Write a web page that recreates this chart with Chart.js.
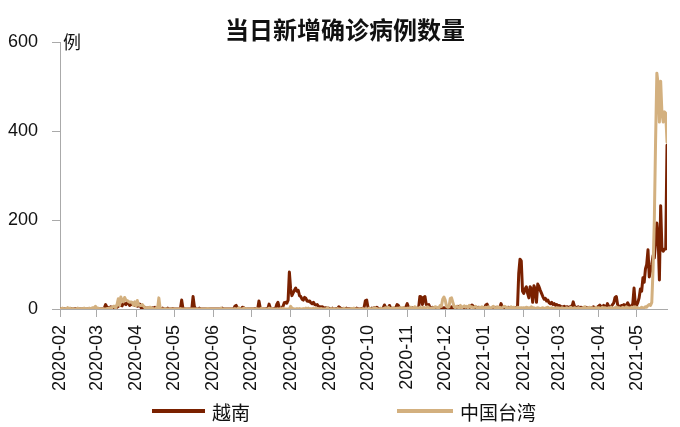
<!DOCTYPE html>
<html>
<head>
<meta charset="utf-8">
<script src="https://cdn.jsdelivr.net/npm/chart.js@4.4.1/dist/chart.umd.min.js"></script>
<style>
  body { margin: 0; background: #fff; }
  #wrap { position: relative; width: 680px; height: 427px; }
  #title { position: absolute; left: 10px; top: 11px; width: 670px; text-align: center; line-height: 28px;
    font: bold 24px "Noto Sans CJK SC", sans-serif; color: #111; }
  .legend-item { position: absolute; top: 399px; height: 24px; line-height: 24px; display: flex; align-items: center;
    font: 19px "Noto Sans CJK SC", sans-serif; color: #111; white-space: nowrap; }
  .legend-item .swatch { display: inline-block; height: 4px; margin-right: 7px; }
</style>
</head>
<body>
<div id="wrap">
  <canvas id="chart" width="680" height="427"></canvas>
  <div id="title">当日新增确诊病例数量</div>
</div>
<script>
// month tick labels and number of days of data in each month (data starts 2020-02-01)
const monthLabels = ['2020-02', '2020-03', '2020-04', '2020-05', '2020-06', '2020-07', '2020-08', '2020-09',
  '2020-10', '2020-11', '2020-12', '2021-01', '2021-02', '2021-03', '2021-04', '2021-05'];
const monthDays = [29, 31, 30, 31, 30, 31, 31, 30, 31, 30, 31, 31, 28, 31, 30, 25];
const yTicks = [0, 200, 400, 600];

const seriesNames = ['越南', '中国台湾'];

// daily new cases, one line per month
const vietnam = [
  0,1,0,1,0,0,1,0,1,1,0,0,1,0,0,0,0,0,0,0,0,0,0,0,0,0,0,0,0,
  0,0,0,0,0,1,2,10,4,3,2,5,3,2,5,5,4,6,8,9,7,14,12,10,15,13,8,10,10,12,8,
  9,6,7,11,3,4,2,4,1,2,2,1,0,3,2,4,0,0,2,0,0,2,0,0,0,2,0,0,0,1,
  0,0,0,0,0,0,20,2,0,0,0,0,0,0,0,28,6,0,0,0,2,0,0,0,0,0,0,0,0,0,0,
  0,0,0,0,0,0,0,2,0,0,0,0,0,0,0,0,0,6,8,3,0,0,0,4,3,0,0,0,0,0,
  0,0,0,1,0,0,18,2,0,0,0,0,1,0,11,2,0,0,1,0,10,15,3,2,1,6,14,15,13,20,83,
  45,30,36,42,47,40,42,30,28,22,20,26,24,18,17,18,14,12,15,10,9,10,6,5,4,5,3,2,3,1,2,
  1,0,2,0,0,1,0,5,3,0,1,0,0,2,0,1,0,0,1,0,0,2,1,0,0,1,0,4,19,20,
  4,1,0,2,1,3,0,4,2,1,0,1,2,9,3,1,1,8,2,1,0,2,3,10,8,2,1,0,2,1,5,
  12,4,2,1,3,1,2,0,1,3,28,27,10,26,28,10,9,10,3,2,4,1,2,3,1,2,0,1,3,2,
  3,2,4,1,2,5,2,3,1,4,6,2,3,1,2,3,1,4,2,3,6,9,7,3,2,1,4,2,3,1,2,
  2,9,11,4,2,1,3,2,1,4,2,1,3,12,5,2,1,3,2,4,1,2,3,1,2,4,1,80,112,108,40,
  35,45,50,35,25,50,45,15,52,45,15,56,50,42,35,28,22,24,18,20,14,12,15,10,12,8,10,7,
  8,6,5,4,6,3,5,4,3,6,5,16,6,4,3,5,2,4,3,2,3,4,2,3,1,2,3,5,2,3,4,
  6,9,5,4,8,6,3,12,6,4,5,10,14,26,28,10,6,5,8,7,10,6,9,14,8,6,5,12,47,10,
  8,15,25,45,40,70,60,90,100,133,72,85,100,120,115,150,193,160,65,232,135,130,135,135,368
];

const taiwan = [
  0,1,2,0,1,0,3,1,2,0,1,0,0,0,2,1,0,1,0,2,1,1,0,2,1,2,3,3,6,
  1,2,1,0,0,1,0,0,1,1,2,3,3,6,6,2,10,23,8,27,18,16,26,20,19,17,15,16,15,8,16,
  7,19,9,8,8,10,6,3,3,3,3,4,3,2,0,0,3,0,25,2,0,0,0,1,0,0,0,0,0,0,
  0,0,0,0,0,1,0,0,0,0,1,0,0,0,0,0,0,0,0,0,0,0,0,0,0,0,1,1,0,0,0,
  0,0,0,0,0,0,2,0,0,0,0,0,0,0,0,0,0,1,0,0,3,0,0,0,2,0,1,0,0,0,
  0,0,0,0,1,0,0,0,2,0,0,0,0,0,2,0,1,0,0,0,0,0,0,1,0,2,0,0,0,0,0,
  6,2,1,0,0,1,0,1,0,0,1,0,2,1,2,0,1,0,2,0,2,0,1,0,1,0,0,0,0,3,0,
  0,1,0,1,0,0,1,0,0,0,0,2,0,0,0,0,0,1,1,2,0,0,0,0,0,0,1,0,0,0,
  0,2,1,0,1,3,1,1,0,0,2,1,0,2,3,1,4,2,1,2,3,2,1,2,1,3,2,3,3,2,1,
  2,1,3,4,2,1,5,3,2,1,4,2,3,4,2,3,5,3,2,1,3,2,5,4,3,2,8,6,22,27,
  20,6,4,5,24,25,15,5,3,6,4,3,8,2,5,7,4,6,3,8,4,5,3,4,6,3,2,4,3,5,2,
  3,4,2,5,3,2,4,6,3,2,5,3,4,2,3,5,6,3,4,2,3,5,2,4,3,2,4,3,2,3,2,
  3,2,4,3,2,3,5,2,3,1,2,3,2,1,2,3,1,2,3,4,2,1,3,2,1,2,3,2,
  2,1,3,2,1,2,3,1,2,4,2,1,3,2,1,3,2,1,2,3,5,2,1,3,4,2,3,1,2,4,2,
  3,2,1,4,2,3,2,1,3,2,4,2,1,3,5,2,3,2,1,4,2,3,5,2,3,1,4,3,2,5,
  2,3,1,2,4,2,3,5,4,8,10,8,15,90,200,380,530,505,420,512,440,420,443,440,375
];

const colors = ['#7a2100', '#d3b07f'];
const axisColor = '#aaaaaa';
const tickFont = { family: '"Liberation Sans", Arial, sans-serif', size: 18 };

const monthStarts = [];
let acc = 0;
monthDays.forEach(d => { monthStarts.push(acc); acc += d; });
const lastIndex = acc - 1;

const toPoints = arr => arr.map((v, i) => ({ x: i, y: v }));

// "例" unit next to the top of the y axis
const unitLabel = {
  id: 'unitLabel',
  afterDraw(chart) {
    const y = chart.scales.y;
    const ctx = chart.ctx;
    ctx.save();
    ctx.font = '18px "Noto Sans CJK SC", sans-serif';
    ctx.fillStyle = '#111';
    ctx.textBaseline = 'middle';
    ctx.fillText('例', y.right + 3, y.top);
    ctx.restore();
  }
};

new Chart(document.getElementById('chart'), {
  type: 'line',
  data: {
    datasets: [
      { label: seriesNames[0], data: toPoints(vietnam), borderColor: colors[0], backgroundColor: colors[0], order: 2 },
      { label: seriesNames[1], data: toPoints(taiwan), borderColor: colors[1], backgroundColor: colors[1], order: 1 }
    ]
  },
  options: {
    responsive: false,
    animation: false,
    events: [],
    layout: { padding: { left: 0, right: 13, top: 42, bottom: 0 } },
    elements: {
      point: { radius: 0 },
      line: { borderWidth: 3, tension: 0, borderJoinStyle: 'round', borderCapStyle: 'round' }
    },
    plugins: {
      legend: { display: false },
      tooltip: { enabled: false },
      title: { display: false }
    },
    scales: {
      x: {
        type: 'linear',
        min: 0,
        max: lastIndex,
        afterBuildTicks(scale) { scale.ticks = monthStarts.map(v => ({ value: v })); },
        afterFit(scale) { scale.height = 118; },
        ticks: {
          autoSkip: false,
          maxRotation: 90,
          minRotation: 90,
          padding: 8,
          color: '#111',
          font: tickFont,
          callback: (v, i) => monthLabels[i]
        },
        grid: { drawOnChartArea: false, tickLength: 8, color: axisColor },
        border: { color: axisColor, width: 1 }
      },
      y: {
        min: 0,
        max: 600,
        afterBuildTicks(scale) { scale.ticks = yTicks.map(v => ({ value: v })); },
        afterFit(scale) { scale.width = 60; },
        ticks: { padding: 14, color: '#111', font: tickFont },
        grid: { drawOnChartArea: false, tickLength: 8, color: axisColor },
        border: { color: axisColor, width: 1 }
      }
    }
  },
  plugins: [unitLabel]
});

// legend under the axis labels
const legendLeft = [152, 397];
const swatchWidth = [53, 56];
const wrap = document.getElementById('wrap');
seriesNames.forEach((name, i) => {
  const item = document.createElement('div');
  item.className = 'legend-item';
  item.style.left = legendLeft[i] + 'px';
  const sw = document.createElement('span');
  sw.className = 'swatch';
  sw.style.width = swatchWidth[i] + 'px';
  sw.style.background = colors[i];
  item.appendChild(sw);
  item.appendChild(document.createTextNode(name));
  wrap.appendChild(item);
});
</script>
</body>
</html>
